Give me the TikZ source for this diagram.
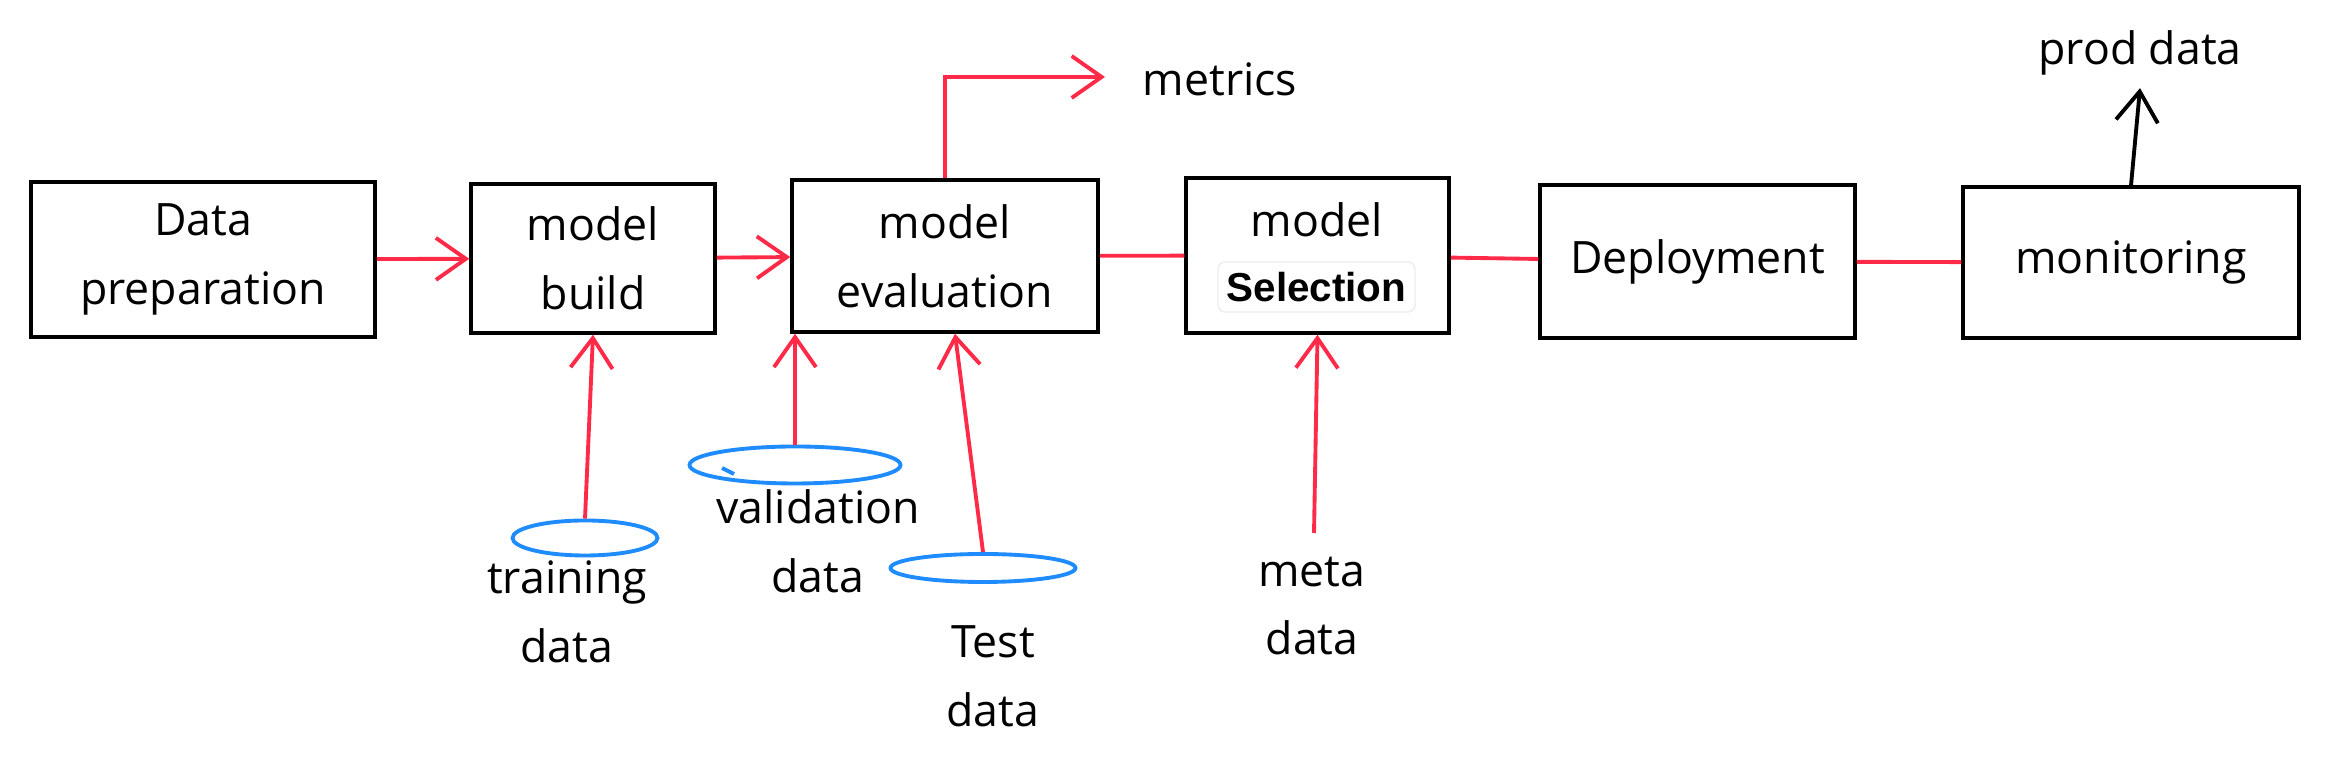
\documentclass[tikz,border=0pt]{standalone}
\usepackage{fontspec}
\setmainfont{Open Sans}
\newfontfamily\badgefont{Liberation Sans}
\usetikzlibrary{arrows.meta,shapes.geometric}
\definecolor{flowred}{RGB}{255,42,72}
\definecolor{diskblue}{RGB}{30,140,255}
\tikzset{
  stage/.style={draw=black, line width=1pt, rectangle, align=center, inner sep=0pt,
                font=\fontsize{12.7}{19.6}\selectfont},
  datatext/.style={align=center, font=\fontsize{12.7}{19.6}\selectfont},
  disk/.style={draw=diskblue, line width=1.1pt, ellipse, inner sep=0pt},
  flow/.style={draw=flowred, line width=1.1pt},
  flowarrow/.style={flow, -{Straight Barb[length=3mm,width=4.2mm]}},
}

\begin{document}
\begin{tikzpicture}
\useasboundingbox (0,0) rectangle (23.3,7.6);
% Pipeline stages
\node[stage, minimum width=3.44cm, minimum height=1.55cm] (prep) at (2.03,5.005) {Data\\preparation};
\node[stage, minimum width=2.44cm, minimum height=1.49cm] (build) at (5.93,5.015) {model\\build};
\node[stage, minimum width=3.06cm, minimum height=1.52cm] (eval) at (9.45,5.04) {model\\evaluation};
\node[stage, minimum width=2.63cm, minimum height=1.55cm] (select) at (13.175,5.045) {};
\node[datatext, anchor=base] (selmodel) at (13.17,5.23) {model};
\node[draw=black!7, fill=white, rounded corners=2pt, minimum width=1.97cm, minimum height=0.5cm,
      inner sep=0pt, font=\badgefont\bfseries\fontsize{11.5}{13}\selectfont] (selword) at (13.165,4.73) {Selection};
\node[stage, minimum width=3.15cm, minimum height=1.53cm] (deploy) at (16.975,4.985) {Deployment};
\node[stage, minimum width=3.36cm, minimum height=1.51cm] (monitor) at (21.31,4.975) {monitoring};
% Links between stages
\draw[flowarrow] (prep) -- (build);
\draw[flowarrow] (build) -- (eval);
\draw[flow] (eval) -- (select);
\draw[flow] (select) -- (deploy);
\draw[flow] (deploy) -- (monitor);
% Metrics output
\node[datatext, anchor=base] (metrics) at (12.20,6.64) {metrics};
\coordinate (metricsend) at (11.05,6.83);
\draw[flowarrow] (eval.north) |- (metricsend);
% Prod data output
\node[datatext, anchor=base] (prod) at (21.40,6.95) {prod data};
\draw[line width=1.1pt, -{Straight Barb[length=3mm,width=4.2mm]}] (monitor.north) -- (prod.south);
% Data sources
\node[disk, minimum width=1.45cm, minimum height=0.35cm] (traindisk) at (5.85,2.22) {};
\node[datatext] (traindata) at (5.67,1.485) {training\\data};
\draw[flowarrow] (traindisk.north) -- (build.south);
\node[disk, minimum width=2.11cm, minimum height=0.37cm] (validdisk) at (7.95,2.95) {};
\draw[draw=diskblue, line width=1.1pt] (7.22,2.92) -- (7.34,2.86);
\node[datatext] (validdata) at (8.18,2.19) {validation\\data};
\draw[flowarrow] (validdisk.north) -- (validdisk.north |- eval.south);
\node[disk, minimum width=1.85cm, minimum height=0.28cm] (testdisk) at (9.83,1.92) {};
\node[datatext] (testdata) at (9.93,0.835) {Test\\data};
\draw[flowarrow] (testdisk.north) -- ([xshift=1mm]eval.south);
\node[datatext] (metadata) at (13.12,1.54) {meta\\data};
\coordinate (metatop) at (13.14,2.27);
\draw[flowarrow] (metatop) -- (select.south);
\end{tikzpicture}
\end{document}
